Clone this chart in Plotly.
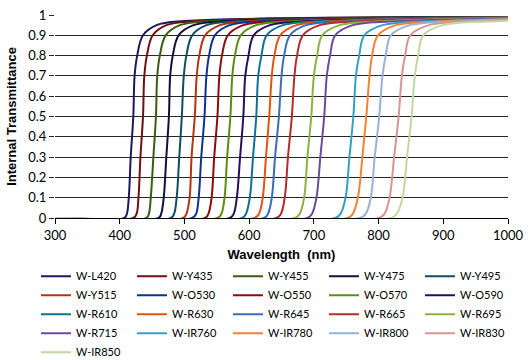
import plotly.graph_objects as go

levels = [0.0, 0.02, 0.1, 0.3, 0.5, 0.7, 0.8, 0.9, 0.95, 0.97]
wl_start = 300
wl_end = 1000

names = ["W-L420", "W-Y435", "W-Y455", "W-Y475", "W-Y495", "W-Y515", "W-O530",
         "W-O550", "W-O570", "W-O590", "W-R610", "W-R630", "W-R645", "W-R665",
         "W-R695", "W-R715", "W-IR760", "W-IR780", "W-IR800", "W-IR830", "W-IR850"]

# wavelength (nm) at which each level in `levels` is reached
L420 = [407, 411, 414, 417, 421, 423, 427, 436, 457, 500]
Y435 = [421, 426, 429, 432, 436, 438, 442, 451, 472, 517]
Y455 = [441, 445, 448, 452, 456, 458, 462, 471, 493, 540]
Y475 = [460, 464, 468, 472, 476, 478, 482, 491, 514, 563]
Y495 = [479, 484, 488, 492, 496, 499, 503, 512, 534, 585]
Y515 = [498, 503, 508, 511, 516, 519, 523, 532, 555, 608]
O530 = [512, 518, 522, 526, 531, 534, 538, 547, 570, 625]
O550 = [532, 537, 542, 546, 551, 554, 558, 567, 591, 648]
O570 = [551, 557, 562, 566, 571, 574, 578, 587, 611, 671]
O590 = [570, 576, 581, 586, 591, 594, 599, 607, 632, 694]
R610 = [589, 595, 601, 606, 611, 614, 619, 627, 652, 716]
R630 = [608, 615, 621, 626, 631, 635, 639, 648, 673, 739]
R645 = [623, 629, 635, 640, 646, 650, 654, 663, 688, 756]
R665 = [642, 649, 655, 660, 666, 670, 674, 683, 709, 779]
R695 = [671, 678, 685, 690, 696, 700, 705, 713, 740, 813]
R715 = [690, 697, 704, 710, 716, 720, 725, 733, 760, 836]
IR760 = [733, 741, 749, 755, 761, 765, 770, 778, 806, 888]
IR780 = [752, 760, 768, 775, 781, 786, 790, 799, 827, 910]
IR800 = [771, 780, 788, 794, 801, 806, 811, 819, 848, 933]
IR830 = [800, 809, 817, 824, 831, 836, 841, 849, 878, 967]
IR850 = [819, 828, 837, 844, 851, 856, 861, 869, 899, 990]

# transmittance at 1000 nm
t_end = [0.990, 0.990, 0.990, 0.990, 0.990, 0.988, 0.988, 0.988, 0.988, 0.987,
         0.987, 0.986, 0.986, 0.985, 0.984, 0.983, 0.980, 0.979, 0.978, 0.976, 0.972]

colors = ["#1a1a60", "#6e1010", "#3b5c12", "#10103c", "#134c62", "#b4340f",
          "#0c3390", "#8c0c0c", "#5c8c14", "#2c0c5c", "#0f7293", "#e4530f",
          "#3a6cb8", "#b42c2c", "#8cb242", "#6b4c9a", "#31a2c2", "#f5822e",
          "#96b2d6", "#d89494", "#c2d8a0"]

edges = [L420, Y435, Y455, Y475, Y495, Y515, O530, O550, O570, O590, R610,
         R630, R645, R665, R695, R715, IR760, IR780, IR800, IR830, IR850]

fig = go.Figure()
for name, edge, end, col in zip(names, edges, t_end, colors):
    fig.add_trace(go.Scatter(
        x=[wl_start] + edge + [wl_end],
        y=[0.0] + levels + [end],
        mode="lines", name=name,
        line=dict(color=col, width=2, shape="spline", smoothing=1.0),
    ))

fig.update_layout(
    width=530, height=360,
    margin=dict(l=55, r=22, t=15, b=142, autoexpand=False),
    paper_bgcolor="white", plot_bgcolor="white",
    font=dict(family="Lato, Open Sans, sans-serif", size=12, color="black"),
    showlegend=True,
    legend=dict(
        orientation="h", x=-0.042, xanchor="left", y=-0.215, yanchor="top",
        entrywidth=51, entrywidthmode="pixels",
        font=dict(family="Lato, sans-serif", size=11, color="black"),
        bgcolor="rgba(0,0,0,0)", borderwidth=0, traceorder="normal",
        itemclick=False, itemdoubleclick=False,
    ),
)
fig.update_xaxes(
    range=[300, 1000], dtick=100, tick0=300,
    showgrid=False, showline=True, linecolor="black", linewidth=1,
    ticks="outside", ticklen=5, tickcolor="black",
    zeroline=False, layer="below traces",
    title=dict(text="Wavelength  (nm)", standoff=8,
               font=dict(family="Liberation Sans, Arial, sans-serif", size=13, weight="bold")),
    tickfont=dict(family="Lato, sans-serif", size=13),
)
fig.update_yaxes(
    range=[0, 1], dtick=0.1, tick0=0,
    showgrid=True, gridcolor="#262626", gridwidth=1,
    showline=False, zeroline=False,
    ticks="outside", ticklen=5, tickcolor="#262626",
    title=dict(text="Internal Transmittance", standoff=8,
               font=dict(family="Liberation Sans, Arial, sans-serif", size=13, weight="bold")),
    tickfont=dict(family="Lato, sans-serif", size=13),
)

fig.write_html("out.html", config={"displayModeBar": False},
               post_script="document.body.style.margin='0';")
